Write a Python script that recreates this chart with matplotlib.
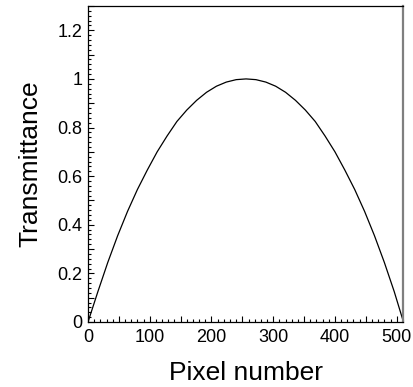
import numpy as np
import matplotlib
matplotlib.use("Agg")
import matplotlib.pyplot as plt
from matplotlib.ticker import MultipleLocator, FuncFormatter

plt.rcParams['font.family'] = ['Liberation Sans', 'DejaVu Sans']

# Values
pixel = [0, 16, 32, 48, 64, 80, 96, 112, 128, 144, 160, 176, 192, 208, 224, 240, 256,
         272, 288, 304, 320, 336, 352, 368, 384, 400, 416, 432, 448, 464, 480, 496, 511]
transmittance = [0.0, 0.125, 0.245, 0.355, 0.455, 0.545, 0.625, 0.70, 0.765, 0.825, 0.872,
                 0.912, 0.945, 0.970, 0.987, 0.997, 1.0,
                 0.997, 0.987, 0.970, 0.945, 0.912, 0.872, 0.825, 0.765, 0.70, 0.625,
                 0.545, 0.455, 0.355, 0.245, 0.125, 0.0]

fig = plt.figure(figsize=(4.14, 3.87), dpi=100)
ax = fig.add_axes([0.2126, 0.168, 0.762, 0.8165])

ax.plot(pixel, transmittance, color='black', lw=0.9)

ax.set_xlim(0, 511)
ax.set_ylim(0, 1.3)

# ticks: inside, bottom and left only
ax.xaxis.set_major_locator(MultipleLocator(50))
ax.xaxis.set_minor_locator(MultipleLocator(10))
ax.yaxis.set_major_locator(MultipleLocator(0.1))
ax.yaxis.set_minor_locator(MultipleLocator(0.02))
ax.xaxis.set_major_formatter(FuncFormatter(lambda v, p: '%d' % v if round(v) % 100 == 0 else ''))
ax.yaxis.set_major_formatter(FuncFormatter(lambda v, p: '%g' % round(v, 1) if round(v * 10) % 2 == 0 else ''))
ax.tick_params(which='both', direction='in', top=False, right=False, width=0.8)
ax.tick_params(which='major', length=4.5, labelsize=13)
ax.tick_params(which='minor', length=2.2)
ax.tick_params(axis='x', which='major', pad=5)
ax.tick_params(axis='y', which='major', pad=4)

for s in ['left', 'bottom', 'top']:
    ax.spines[s].set_linewidth(0.9)
ax.spines['right'].set_color('#7f7f7f')
ax.spines['right'].set_linewidth(1.6)

ax.set_xlabel('Pixel number', fontsize=19, labelpad=11)
ax.set_ylabel('Transmittance', fontsize=19, labelpad=11)

fig.savefig('out.png', dpi=100)
